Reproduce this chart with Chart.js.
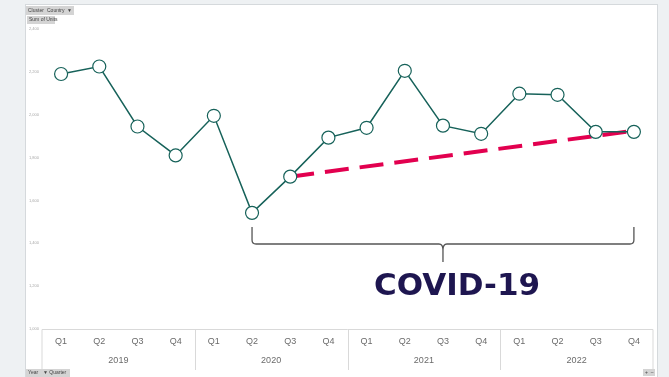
<!DOCTYPE html>
<html>
<head>
<meta charset="utf-8">
<script src="https://cdn.jsdelivr.net/npm/chart.js@4"></script>
<style>
  html, body { margin: 0; padding: 0; background: #eef1f3; }
  #wrap { width: 669px; height: 377px; position: relative; }
</style>
</head>
<body>
<div id="wrap"><canvas id="unitsChart" width="669" height="377"></canvas></div>
<script>
const quarters = ['Q1', 'Q2', 'Q3', 'Q4', 'Q1', 'Q2', 'Q3', 'Q4', 'Q1', 'Q2', 'Q3', 'Q4', 'Q1', 'Q2', 'Q3', 'Q4'];
const years = ['2019', '2020', '2021', '2022'];
const units = [2190, 2225, 1945, 1810, 1995, 1542, 1711, 1893, 1939, 2205, 1949, 1911, 2098, 2093, 1920, 1920];
const trend = [null, null, null, null, null, null, 1711, null, null, null, null, null, null, null, null, 1925];
const yTicks = { min: 1000, max: 2400, step: 200 };
const braceFrom = 5, braceTo = 15;
const braceLabel = 'COVID-19';

const pivotDecor = {
    id: 'pivotDecor',
    beforeDraw(chart) {
        const ctx = chart.ctx;
        ctx.save();
        ctx.fillStyle = '#eef1f3';
        ctx.fillRect(0, 0, chart.width, chart.height);
        ctx.fillStyle = '#ffffff';
        ctx.fillRect(26, 5, 631, chart.height - 5);
        ctx.strokeStyle = '#d5d9dc';
        ctx.lineWidth = 1;
        ctx.strokeRect(25.5, 4.5, 632, chart.height);
        ctx.restore();
    },
    afterDraw(chart) {
        const ctx = chart.ctx;
        const x = chart.scales.x;
        const area = chart.chartArea;
        ctx.save();

        // axis box and year separators
        const step = x.getPixelForValue(1) - x.getPixelForValue(0);
        const left = x.getPixelForValue(0) - step / 2;
        const right = x.getPixelForValue(quarters.length - 1) + step / 2;
        const bottom = area.bottom + 41;
        ctx.strokeStyle = '#d9d9d9';
        ctx.lineWidth = 1;
        ctx.beginPath();
        ctx.moveTo(left, bottom);
        ctx.lineTo(left, area.bottom + 0.5);
        ctx.lineTo(right, area.bottom + 0.5);
        ctx.lineTo(right, bottom);
        for (let i = 1; i < years.length; i++) {
            const sx = Math.round(x.getPixelForValue(i * 4) - step / 2) + 0.5;
            ctx.moveTo(sx, area.bottom);
            ctx.lineTo(sx, bottom);
        }
        ctx.stroke();

        ctx.fillStyle = '#6b6b6b';
        ctx.font = '9px "Liberation Sans", Arial, sans-serif';
        ctx.textAlign = 'center';
        ctx.textBaseline = 'middle';
        years.forEach((yr, i) => {
            const cx = (x.getPixelForValue(i * 4) + x.getPixelForValue(i * 4 + 3)) / 2;
            ctx.fillText(yr, cx, area.bottom + 32);
        });

        // field buttons
        ctx.fillStyle = '#d4d4d4';
        ctx.fillRect(26, 6, 48, 9);
        ctx.fillRect(27, 16, 28, 8);
        ctx.fillRect(26, 369, 44, 8);
        ctx.fillRect(643, 369, 12, 7);
        ctx.fillStyle = '#444';
        ctx.font = '5px "Liberation Sans", Arial, sans-serif';
        ctx.textAlign = 'left';
        ctx.fillText('Cluster', 28, 10.5);
        ctx.fillText('Country', 47, 10.5);
        ctx.fillText('\u25BC', 67, 10.5);
        ctx.fillText('Sum of Units', 29, 20);
        ctx.fillText('Year', 28, 373);
        ctx.fillText('\u25BC Quarter', 43, 373);
        ctx.fillText('+  \u2013', 645, 372.5);

        // brace under the COVID period
        const bx1 = x.getPixelForValue(braceFrom);
        const bx2 = x.getPixelForValue(braceTo);
        const mid = (bx1 + bx2) / 2;
        const top = 227, line = 244, tip = 262;
        ctx.strokeStyle = '#555555';
        ctx.lineWidth = 1.3;
        ctx.beginPath();
        ctx.moveTo(bx1, top);
        ctx.lineTo(bx1, line - 4);
        ctx.quadraticCurveTo(bx1, line, bx1 + 4, line);
        ctx.lineTo(mid - 4, line);
        ctx.quadraticCurveTo(mid, line, mid, line + 6);
        ctx.lineTo(mid, tip);
        ctx.moveTo(mid, line + 6);
        ctx.quadraticCurveTo(mid, line, mid + 4, line);
        ctx.lineTo(bx2 - 4, line);
        ctx.quadraticCurveTo(bx2, line, bx2, line - 4);
        ctx.lineTo(bx2, top);
        ctx.stroke();

        ctx.fillStyle = '#1e1650';
        ctx.font = 'bold 31px "DejaVu Sans", Verdana, sans-serif';
        ctx.textAlign = 'center';
        ctx.textBaseline = 'middle';
        ctx.fillText(braceLabel, mid + 14, 287);
        ctx.restore();
    }
};

document.addEventListener('DOMContentLoaded', function () {
    const ctx = document.getElementById('unitsChart').getContext('2d');
    new Chart(ctx, {
        type: 'line',
        data: {
            labels: quarters,
            datasets: [{
                label: 'Sum of Units',
                data: units,
                borderColor: '#17625a',
                borderWidth: 1.5,
                backgroundColor: '#ffffff',
                pointBackgroundColor: '#ffffff',
                pointBorderColor: '#17625a',
                pointBorderWidth: 1.2,
                pointRadius: 6.5,
                tension: 0,
                order: 0
            }, {
                label: 'Trend',
                data: trend,
                borderColor: '#e2004f',
                borderWidth: 4,
                borderDash: [24, 11],
                pointRadius: 0,
                spanGaps: true,
                order: 1
            }]
        },
        options: {
            responsive: false,
            animation: false,
            layout: { padding: { left: 29, right: 16, top: 29, bottom: 7 } },
            plugins: {
                legend: { display: false },
                tooltip: { enabled: false }
            },
            scales: {
                x: {
                    offset: true,
                    grid: { display: false, drawTicks: false },
                    border: { display: false },
                    ticks: {
                        color: '#6b6b6b',
                        padding: 7,
                        maxRotation: 0,
                        autoSkip: false,
                        font: { size: 9, family: '"Liberation Sans", Arial, sans-serif' }
                    },
                    afterFit: function (scale) { scale.height = 41; }
                },
                y: {
                    min: yTicks.min,
                    max: yTicks.max,
                    grid: { display: false, drawTicks: false },
                    border: { display: false },
                    ticks: {
                        stepSize: yTicks.step,
                        color: '#a8a8a8',
                        padding: 3,
                        crossAlign: 'far',
                        font: { size: 4, family: '"Liberation Sans", Arial, sans-serif' }
                    },
                    afterFit: function (scale) { scale.width = 13; }
                }
            }
        },
        plugins: [pivotDecor]
    });
});
</script>
</body>
</html>
